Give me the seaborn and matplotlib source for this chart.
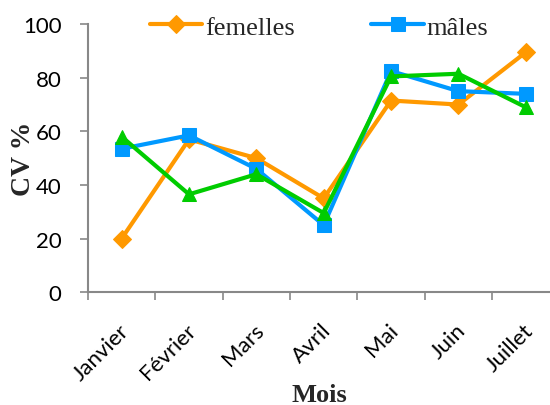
import matplotlib
matplotlib.use("Agg")
import matplotlib.pyplot as plt
from matplotlib.ticker import FixedLocator, NullFormatter
from matplotlib.transforms import ScaledTranslation
import numpy as np
import pandas as pd
import seaborn as sns

# Monthly coefficient of variation (%)
mois = ["Janvier", "Février", "Mars", "Avril", "Mai", "Juin", "Juillet"]
femelles = [20, 57, 50, 35, 71.5, 70, 89.5]
males = [53.5, 58.5, 46, 25, 82.5, 75, 74]
ensemble = [58, 36.5, 44, 29.5, 80.5, 81.5, 69]

series = [
    ("femelles", femelles, "#FF9900", "D", 9),
    ("mâles", males, "#0099FF", "s", 10),
    ("ensemble", ensemble, "#00CC00", "^", 10),
]

sns.set_theme(style="white")
plt.rcParams["font.family"] = ["Lato", "DejaVu Sans"]

fig = plt.figure(figsize=(5.5, 4.06), dpi=100)
ax = fig.add_axes([0.16, 0.278, 0.84, 0.66])

handles = {}
for name, vals, color, marker, ms in series:
    df = pd.DataFrame({"Mois": mois, "CV": vals})
    sns.lineplot(data=df, x="Mois", y="CV", ax=ax, color=color, marker=marker,
                 markersize=ms, markeredgecolor=color, linewidth=3,
                 sort=False, legend=False)
    handles[name] = ax.lines[-1]

ax.set_ylim(0, 100)
ax.set_xlim(-0.5, 6.36)
ax.set_yticks(np.arange(0, 101, 20))

grey = "#888888"
for side in ["top", "right"]:
    ax.spines[side].set_visible(False)
for side in ["left", "bottom"]:
    ax.spines[side].set_color(grey)
    ax.spines[side].set_linewidth(1.5)

ax.tick_params(axis="y", which="major", direction="out", length=6, width=1.2,
               color=grey, left=True, labelsize=16, labelcolor="black", pad=13)
ax.tick_params(axis="x", which="major", length=0, labelsize=16,
               labelcolor="black", pad=25)
ax.xaxis.set_minor_locator(FixedLocator(np.arange(-0.5, 6.6, 1.0)))
ax.xaxis.set_minor_formatter(NullFormatter())
ax.tick_params(axis="x", which="minor", direction="out", length=6, width=1.2,
               color=grey, bottom=True)
shift = ScaledTranslation(3 / 72, 0, fig.dpi_scale_trans)
for lbl in ax.get_xticklabels():
    lbl.set_rotation(45)
    lbl.set_ha("right")
    lbl.set_va("center")
    lbl.set_rotation_mode("anchor")
    lbl.set_transform(lbl.get_transform() + shift)

ax.set_xlabel("Mois", fontsize=19, fontweight="bold",
              family=["Liberation Serif"], labelpad=0)
ax.set_ylabel("CV %", fontsize=20, fontweight="bold",
              family=["Liberation Serif"])
ax.yaxis.set_label_coords(-0.112, 0.5)

leg = ax.legend([handles["femelles"], handles["mâles"]], ["femelles", "mâles"],
                loc="center", bbox_to_anchor=(0.5, 0.99), ncol=2, frameon=False,
                prop={"family": "Liberation Serif", "size": 19},
                handlelength=2.0, handletextpad=0.1, columnspacing=2.9,
                borderaxespad=0)

fig.savefig("out.png", dpi=100, facecolor="white")
